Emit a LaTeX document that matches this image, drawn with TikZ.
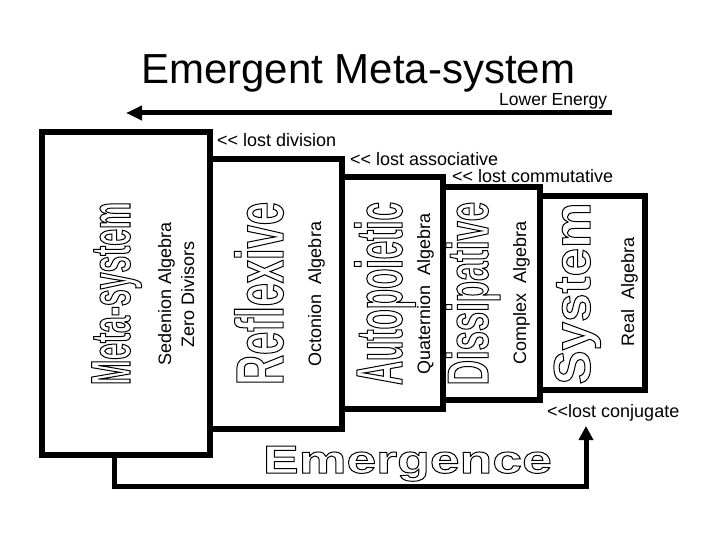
\documentclass[tikz,border=0pt]{standalone}
\usepackage{fontspec}
\setmainfont{Liberation Sans}
\usetikzlibrary{arrows.meta}
\newcommand\outlinetext[3]{{\fontspec{Liberation Sans}[FakeStretch=#1]\bfseries\fontsize{#2}{#2}\selectfont\special{pdf:literal direct 1 Tr 1 w}#3\special{pdf:literal direct 0 Tr}}}
\begin{document}
\begin{tikzpicture}[x=1pt,y=-1pt,
  box/.style={line width=6pt, line join=miter},
  conn/.style={line width=5pt, line join=miter},
  lbl/.style={inner sep=0pt, font=\fontsize{18}{18}\selectfont},
  vlbl/.style={lbl, rotate=90, anchor=base},
  word/.style={inner sep=0pt, rotate=90, anchor=base}]
\useasboundingbox (0,0) rectangle (720,540);
% title
\node[inner sep=0pt, anchor=base west, font=\fontsize{42}{42}\selectfont] (title) at (141,84) {Emergent Meta-system};
\node[lbl, anchor=base west, font=\fontsize{17.5}{18}\selectfont] (lower) at (499,106) {Lower Energy};
% top arrow
\coordinate (eR) at (612,113);
\coordinate (eL) at (126,113);
\draw[conn, -{Triangle[length=16pt,width=14pt]}] (eR) -- (eL);
% boxes
\draw[box] (42,132) rectangle (210,455);
\draw[box] (210,159) rectangle (342,429);
\draw[box] (342,177) rectangle (443,409);
\draw[box] (443,187) rectangle (540,400);
\draw[box] (540,196) rectangle (645,390);
% stage labels
\node[lbl, anchor=base west] (ldiv) at (217,147) {<{}< lost division};
\node[lbl, anchor=base west] (lass) at (350,166) {<{}< lost associative};
\node[lbl, anchor=base west] (lcom) at (452,183) {<{}< lost commutative};
\node[lbl, anchor=base west] (lconj) at (547,417) {<{}<lost conjugate};
% outlined words
\node[word] (wmeta) at (130,293.5) {\outlinetext{0.54}{55.9}{Meta-system}};
\node[word] (wrefl) at (283,293.5) {\outlinetext{0.622}{67}{Reflexive}};
\node[word] (wauto) at (402,293.5) {\outlinetext{0.507}{65.6}{Autopoietic}};
\node[word] (wdiss) at (488,293.5) {\outlinetext{0.598}{58}{Dissipative}};
\node[word] (wsys) at (590,293.5) {\outlinetext{0.99}{51.7}{System}};
% algebra labels
\node[vlbl] (sed) at (171,294) {Sedenion Algebra};
\node[vlbl] (zero) at (194,294) {Zero Divisors};
\node[vlbl] (oct) at (321,294) {Octonion\ \ Algebra};
\node[vlbl] (qua) at (430,294) {Quaternion\ \ Algebra};
\node[vlbl] (cpx) at (526,293) {Complex\ \ Algebra};
\node[vlbl] (real) at (634,292) {Real\ \ Algebra};
% emergence
\node[inner sep=0pt, anchor=base] (emg) at (407.5,473) {\outlinetext{1.37}{39.1}{Emergence}};
\coordinate (fb1) at (114,455);
\coordinate (fb2) at (586,426);
\draw[conn, -{Triangle[length=14pt,width=14pt]}] (fb1) -- ++(0,31) -| (fb2);
\end{tikzpicture}
\end{document}
